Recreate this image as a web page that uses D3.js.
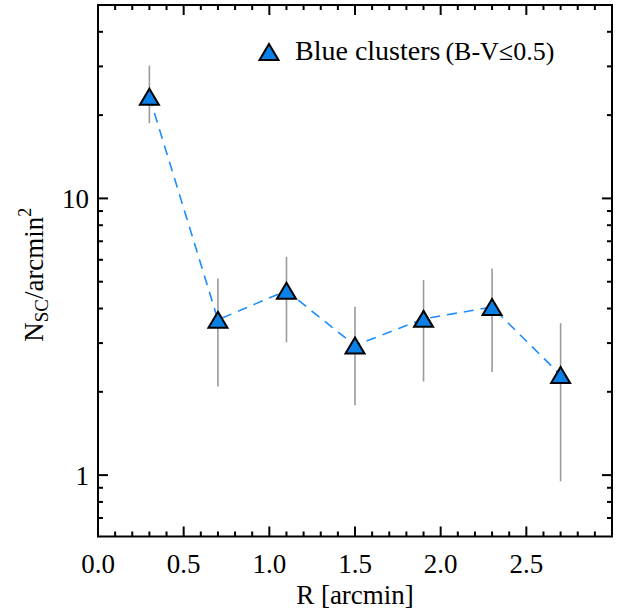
<!DOCTYPE html>
<html><head><meta charset="utf-8">
<script src="https://cdn.jsdelivr.net/npm/d3@7"></script>
<style>body{margin:0;background:#fff}svg{display:block}</style>
</head><body>
<svg id="c" width="641" height="610" font-family="'Liberation Serif', 'Times New Roman', serif"></svg>
<script>
const radius = [0.3, 0.7, 1.1, 1.5, 1.9, 2.3, 2.7];
const density = [23.3, 3.64, 4.64, 2.94, 3.67, 4.05, 2.30];
const errLow = [18.7, 2.09, 3.02, 1.79, 2.18, 2.36, 0.95];
const errHigh = [30.2, 5.14, 6.15, 4.06, 5.07, 5.58, 3.54];
const xTickLabels = ["0.0", "0.5", "1.0", "1.5", "2.0", "2.5"];
const yTickLabels = ["1", "10"];
const legendLabel = "Blue clusters";
const legendNote = "(B-V\u22640.5)";

const svg = d3.select("#c");
const L = 98, R = 612, T = 5, B = 536.5;
const x = d3.scaleLinear().domain([0, 3]).range([L, R]);
const y = d3.scaleLog().domain([0.6, 50]).range([B, T]);

const points = radius.map((r, i) => ({r, v: density[i], lo: errLow[i], hi: errHigh[i]}));

// error bars
svg.append("g").selectAll("line").data(points).join("line")
  .attr("x1", d => x(d.r)).attr("x2", d => x(d.r))
  .attr("y1", d => y(d.lo)).attr("y2", d => y(d.hi))
  .attr("stroke", "#9a9a9a").attr("stroke-width", 1.6);

// dashed line
svg.append("path").datum(points)
  .attr("d", d3.line().x(d => x(d.r)).y(d => y(d.v)))
  .attr("fill", "none").attr("stroke", "#1a8cff").attr("stroke-width", 1.6)
  .attr("stroke-dasharray", "10,7");

// triangles
const tri = (cx, cy) => `M${cx},${cy-8}L${cx+9.5},${cy+8}L${cx-9.5},${cy+8}Z`;
svg.append("g").selectAll("path").data(points).join("path")
  .attr("d", d => tri(x(d.r), y(d.v)))
  .attr("fill", "#0b80e6").attr("stroke", "#000").attr("stroke-width", 2).attr("stroke-linejoin", "miter");

// axes: ticks
const xMinor = d3.range(1, 30).map(i => i / 10);
const xMajor = xTickLabels.map(Number);
const yMinor = [0.7, 0.8, 0.9, 2, 3, 4, 5, 6, 7, 8, 9, 20, 30, 40];
const yMajor = yTickLabels.map(Number);
const axG = svg.append("g").attr("stroke", "#000").attr("stroke-width", 2);
xMinor.forEach(v => {
  const len = xMajor.some(m => Math.abs(m - v) < 1e-9) ? 10 : 5;
  axG.append("line").attr("x1", x(v)).attr("x2", x(v)).attr("y1", B).attr("y2", B - len);
  axG.append("line").attr("x1", x(v)).attr("x2", x(v)).attr("y1", T).attr("y2", T + len);
});
yMinor.concat(yMajor).forEach(v => {
  const len = yMajor.includes(v) ? 10 : 5;
  axG.append("line").attr("y1", y(v)).attr("y2", y(v)).attr("x1", L).attr("x2", L + len);
  axG.append("line").attr("y1", y(v)).attr("y2", y(v)).attr("x1", R).attr("x2", R - len);
});
svg.append("rect").attr("x", L).attr("y", T).attr("width", R - L).attr("height", B - T)
  .attr("fill", "none").attr("stroke", "#000").attr("stroke-width", 2);

// tick labels
svg.append("g").selectAll("text").data(xTickLabels).join("text")
  .attr("x", d => x(+d)).attr("y", 573).attr("text-anchor", "middle")
  .attr("font-size", 27).text(d => d);
svg.append("g").selectAll("text").data(yTickLabels).join("text")
  .attr("x", 89).attr("y", d => y(+d) + 10).attr("text-anchor", "end")
  .attr("font-size", 27).text(d => d);

// axis titles
svg.append("text").attr("x", (L + R) / 2).attr("y", 604).attr("text-anchor", "middle")
  .attr("font-size", 27).text("R [arcmin]");
const yt = svg.append("text").attr("transform", `translate(43,${(T + B) / 2 + 4}) rotate(-90)`)
  .attr("text-anchor", "middle").attr("font-size", 27);
yt.append("tspan").text("N");
yt.append("tspan").attr("font-size", 19).attr("dy", 5).text("SC");
yt.append("tspan").attr("dy", -5).text("/arcmin");
yt.append("tspan").attr("font-size", 18).attr("dy", -12).text("2");

// legend
svg.append("path").attr("d", tri(269, 52)).attr("fill", "#0b80e6")
  .attr("stroke", "#000").attr("stroke-width", 2);
const lt = svg.append("text").attr("x", 295).attr("y", 59.5).attr("font-size", 28);
lt.append("tspan").text(legendLabel);
lt.append("tspan").attr("dx", 5).attr("font-size", 26).text(legendNote);
</script>
</body></html>
